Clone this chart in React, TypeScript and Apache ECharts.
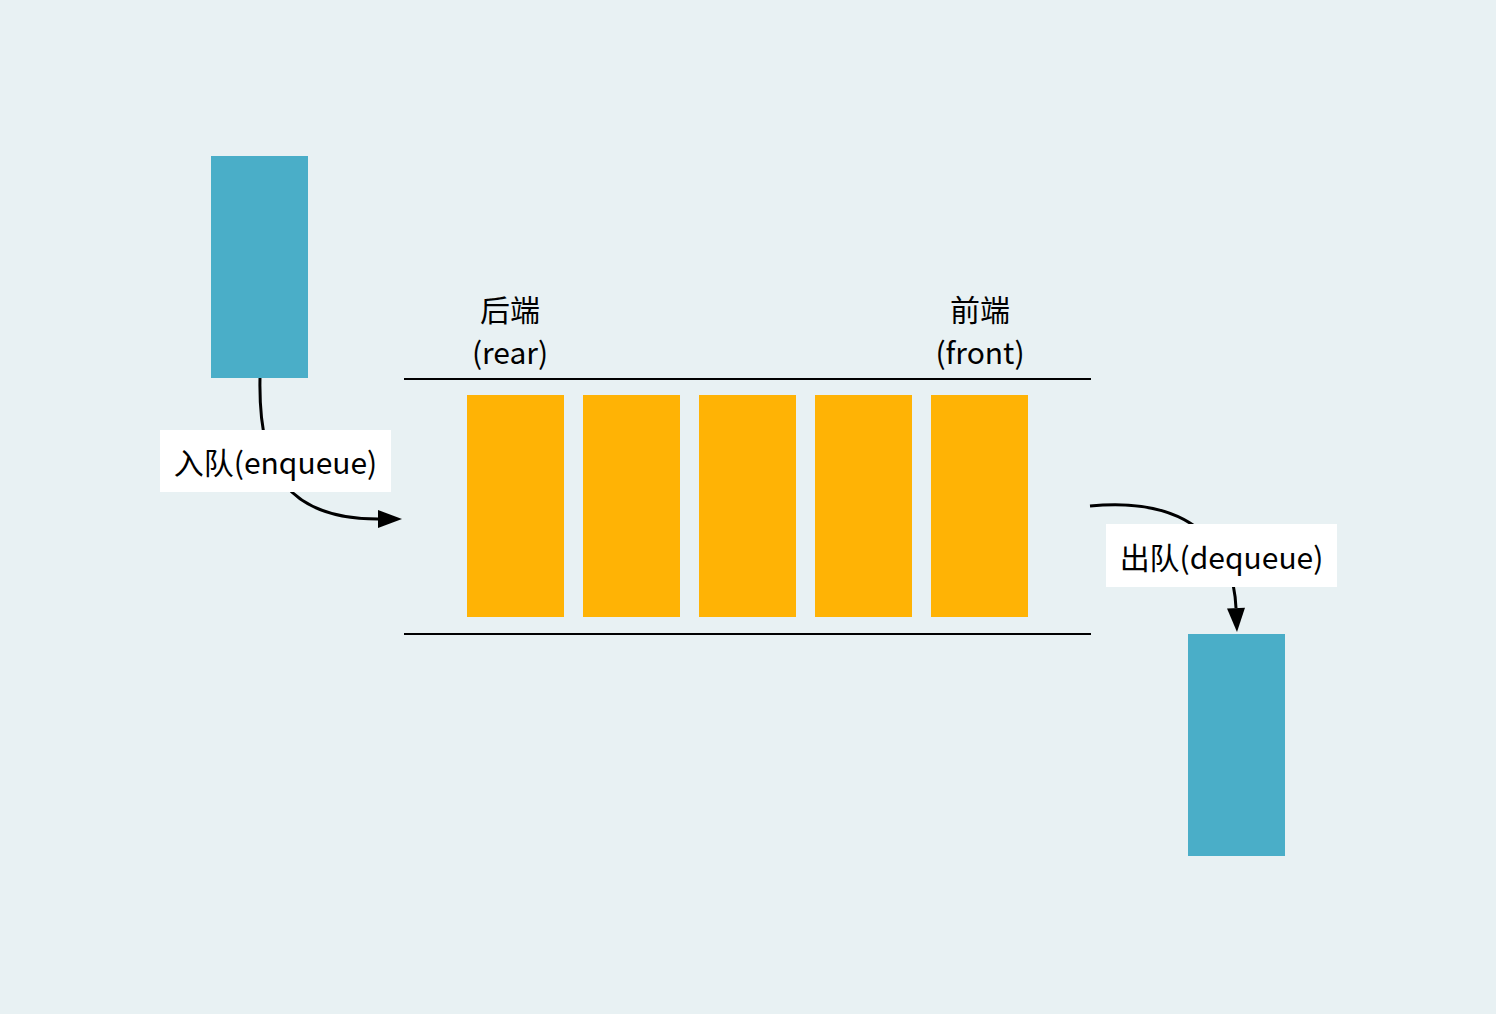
import { useEffect, useRef } from 'react';
import * as echarts from 'echarts';

const W = 1496;
const H = 1014;

// queue slots (orange) – left edges in diagram units
const slotLeft = [467, 583, 699, 815, 931];
const slotTop = 395;
const slotBottom = 617;
const slotWidth = 97;

// incoming / outgoing items (blue): [x0, y0, x1, y1]
const items = [
    [211, 156, 308, 378],
    [1188, 634, 1285, 856],
];

// rails: [x0, y, x1]
const rails = [
    [404, 379, 1091],
    [404, 634, 1091],
];

// end labels: [x, y, text]
const endLabels: [number, number, string][] = [
    [510, 308, '后端'],
    [510, 351, '(rear)'],
    [980, 308, '前端'],
    [980, 351, '(front)'],
];

// arrows: start, cp1, cp2, end(tip)
const arrows = [
    [[260, 378], [258, 475], [290, 519], [402, 519]],
    [[1090, 506], [1205, 495], [1234, 560], [1237, 632]],
];

// label boxes: [x0, y0, x1, y1, text]
const boxes: [number, number, number, number, string][] = [
    [160, 430, 391, 492, '入队(enqueue)'],
    [1106, 524, 1337, 587, '出队(dequeue)'],
];

const FONT = '"Noto Sans CJK SC", "Noto Sans", sans-serif';

const App = () => {
    const chartRef = useRef<HTMLDivElement>(null);

    useEffect(() => {
        document.body.style.margin = '0';
        const chart = echarts.init(chartRef.current, null, { renderer: 'svg' });

        const rectSeries = (data: number[][], color: string) => ({
            type: 'custom',
            coordinateSystem: 'cartesian2d',
            data,
            renderItem: (_p: any, api: any) => {
                const a = api.coord([api.value(0), api.value(1)]);
                const b = api.coord([api.value(2), api.value(3)]);
                return {
                    type: 'rect',
                    shape: { x: a[0], y: a[1], width: b[0] - a[0], height: b[1] - a[1] },
                    style: { fill: color },
                };
            },
        });

        const option: any = {
            animation: false,
            backgroundColor: '#e8f1f3',
            grid: { left: 0, right: 0, top: 0, bottom: 0 },
            xAxis: { type: 'value', min: 0, max: W, show: false },
            yAxis: { type: 'value', min: 0, max: H, inverse: true, show: false },
            series: [
                rectSeries(items, '#4aaec8'),
                rectSeries(
                    slotLeft.map((x) => [x, slotTop, x + slotWidth, slotBottom]),
                    '#ffb305'
                ),
                {
                    type: 'custom',
                    coordinateSystem: 'cartesian2d',
                    data: rails,
                    renderItem: (_p: any, api: any) => {
                        const a = api.coord([api.value(0), api.value(1)]);
                        const b = api.coord([api.value(2), api.value(1)]);
                        return {
                            type: 'line',
                            shape: { x1: a[0], y1: a[1], x2: b[0], y2: b[1] },
                            style: { stroke: '#000', lineWidth: 2 },
                        };
                    },
                },
                {
                    type: 'custom',
                    coordinateSystem: 'cartesian2d',
                    data: arrows.map((_a, i) => [i, 0]),
                    renderItem: (p: any, api: any) => {
                        const pts = arrows[p.dataIndex].map((q) => api.coord(q));
                        const [s, c1, c2, tip] = pts;
                        const dx = tip[0] - c2[0];
                        const dy = tip[1] - c2[1];
                        const len = Math.hypot(dx, dy);
                        const ux = dx / len;
                        const uy = dy / len;
                        const hl = 24;
                        const hw = 9;
                        const bx = tip[0] - ux * hl;
                        const by = tip[1] - uy * hl;
                        return {
                            type: 'group',
                            children: [
                                {
                                    type: 'bezierCurve',
                                    shape: {
                                        x1: s[0], y1: s[1],
                                        cpx1: c1[0], cpy1: c1[1],
                                        cpx2: c2[0], cpy2: c2[1],
                                        x2: bx, y2: by,
                                    },
                                    style: { stroke: '#000', lineWidth: 3, fill: null },
                                },
                                {
                                    type: 'polygon',
                                    shape: {
                                        points: [
                                            [tip[0], tip[1]],
                                            [bx - uy * hw, by + ux * hw],
                                            [bx + uy * hw, by - ux * hw],
                                        ],
                                    },
                                    style: { fill: '#000' },
                                },
                            ],
                        };
                    },
                },
                {
                    type: 'custom',
                    coordinateSystem: 'cartesian2d',
                    data: boxes.map((b) => [b[0], b[1], b[2], b[3]]),
                    renderItem: (p: any, api: any) => {
                        const a = api.coord([api.value(0), api.value(1)]);
                        const b = api.coord([api.value(2), api.value(3)]);
                        return {
                            type: 'group',
                            children: [
                                {
                                    type: 'rect',
                                    shape: { x: a[0], y: a[1], width: b[0] - a[0], height: b[1] - a[1] },
                                    style: { fill: '#fff' },
                                },
                                {
                                    type: 'text',
                                    x: (a[0] + b[0]) / 2,
                                    y: (a[1] + b[1]) / 2,
                                    style: {
                                        text: boxes[p.dataIndex][4],
                                        fill: '#000',
                                        font: `30px ${FONT}`,
                                        align: 'center',
                                        verticalAlign: 'middle',
                                    },
                                },
                            ],
                        };
                    },
                },
                {
                    type: 'custom',
                    coordinateSystem: 'cartesian2d',
                    data: endLabels.map((l) => [l[0], l[1]]),
                    renderItem: (p: any, api: any) => {
                        const a = api.coord([api.value(0), api.value(1)]);
                        return {
                            type: 'text',
                            x: a[0],
                            y: a[1],
                            style: {
                                text: endLabels[p.dataIndex][2],
                                fill: '#000',
                                font: `30px ${FONT}`,
                                align: 'center',
                                verticalAlign: 'middle',
                            },
                        };
                    },
                },
            ],
        };
        chart.setOption(option);
        return () => chart.dispose();
    }, []);

    return <div ref={chartRef} style={{ width: W, height: H }} />;
};

export default App;
